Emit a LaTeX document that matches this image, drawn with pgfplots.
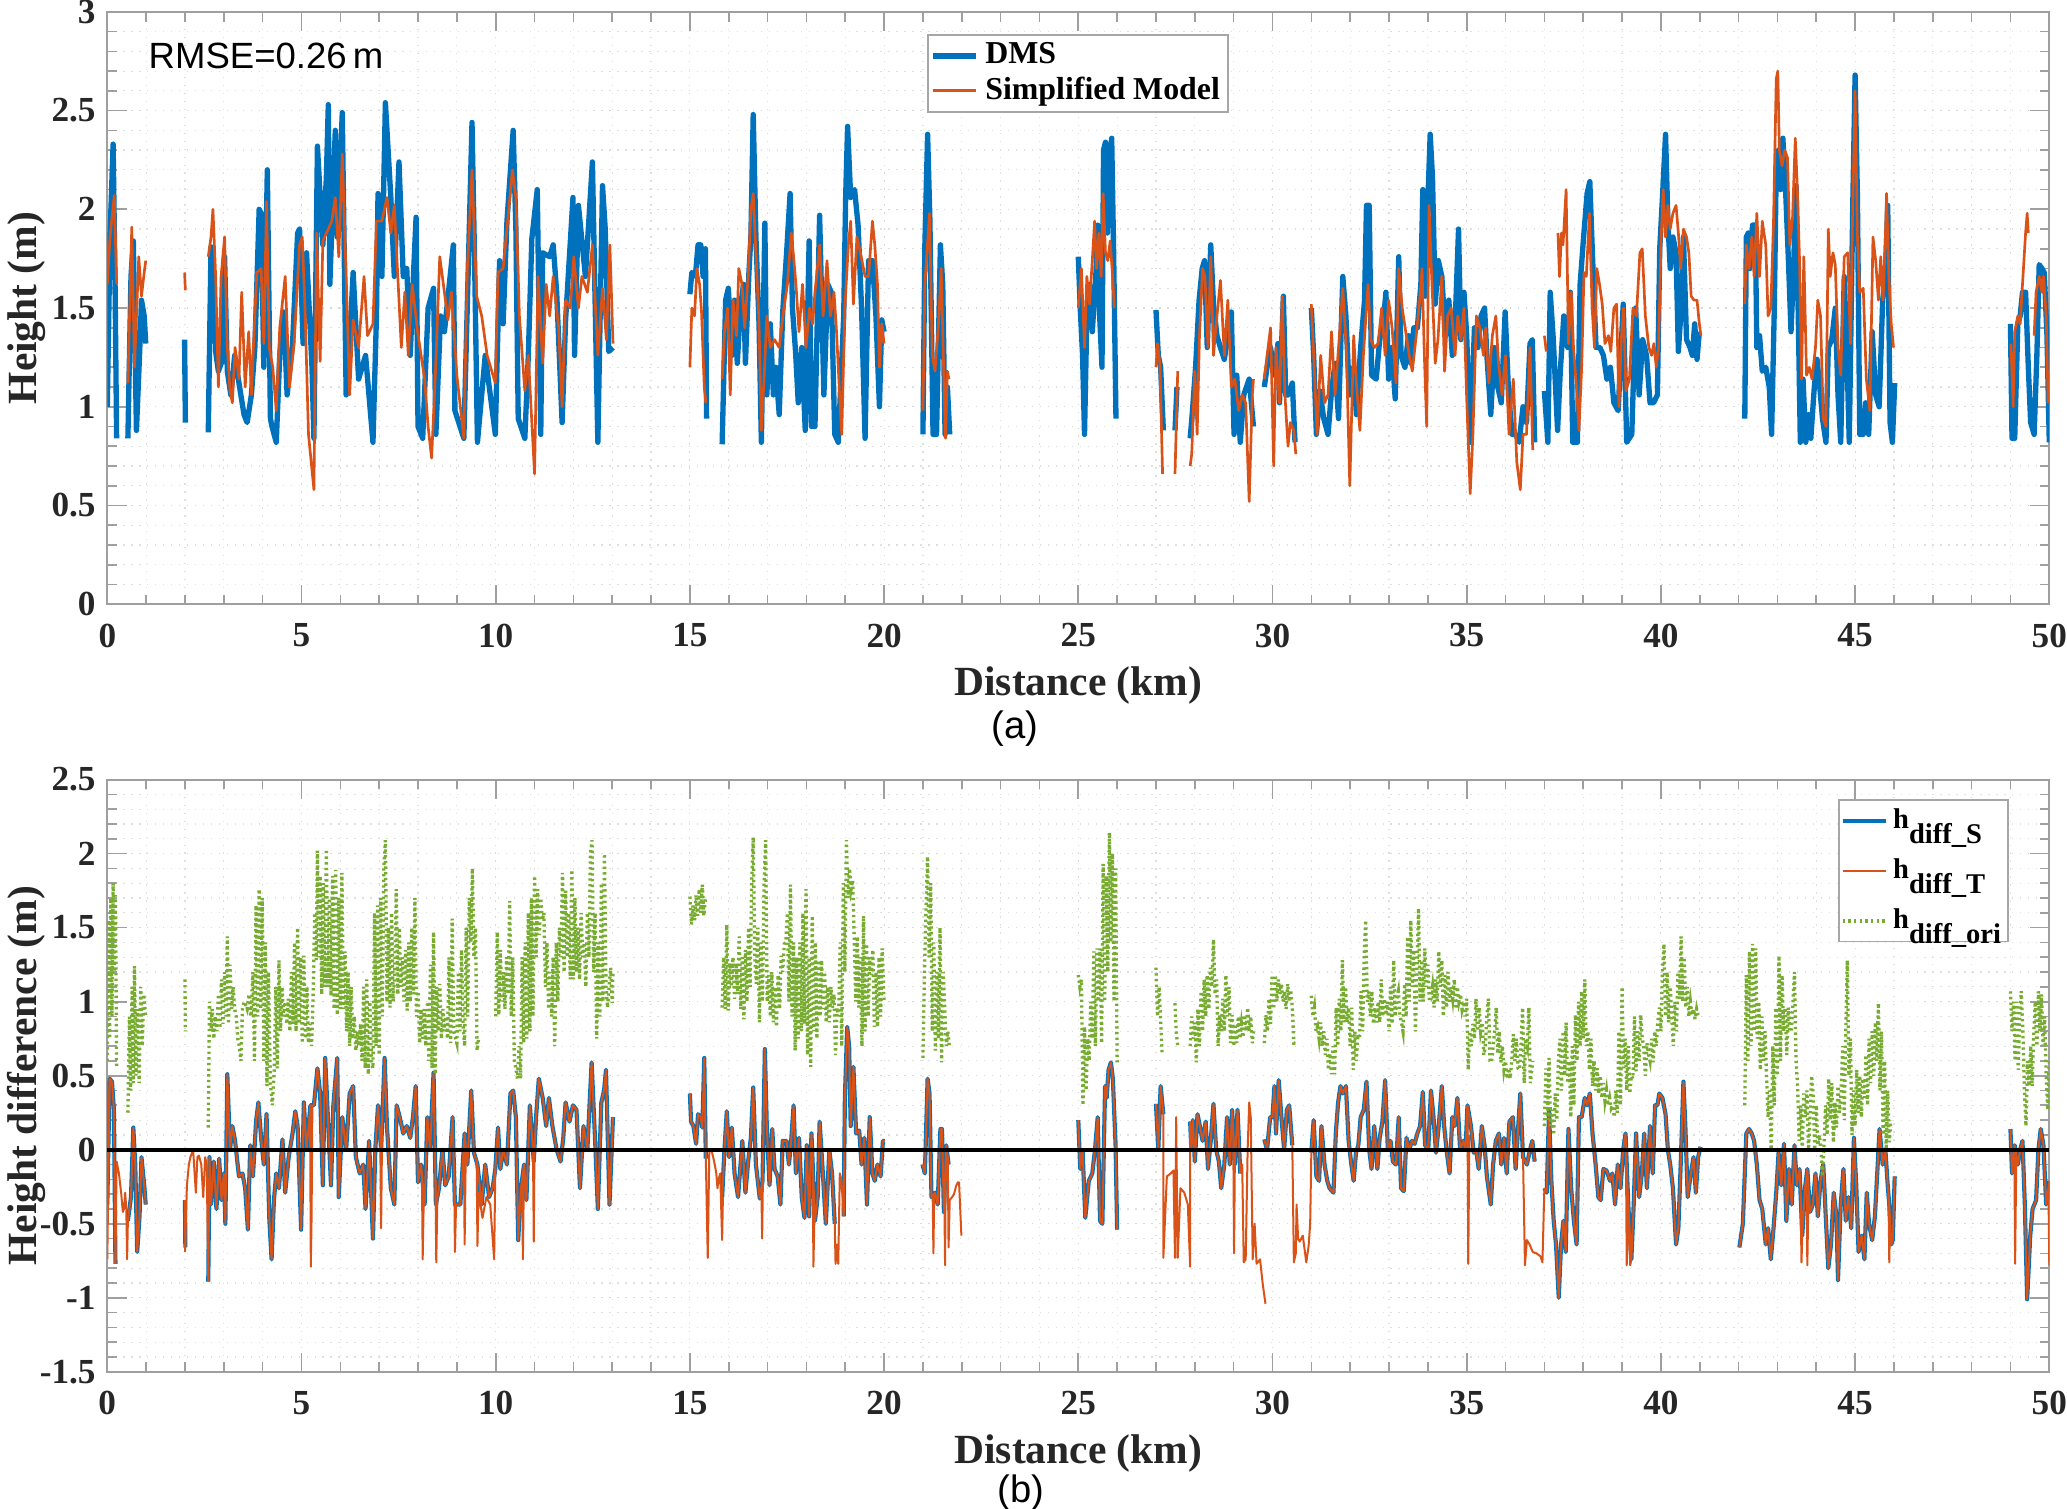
\documentclass[border=0pt]{standalone}
\usepackage{pgfplots}
\pgfplotsset{compat=1.18}
\usepackage{pgfplotstable}
\usepackage{fontspec}
\setmainfont{Liberation Serif}
\newfontfamily\arialf{Liberation Sans}
\definecolor{mblue}{rgb}{0,0.447,0.741}
\definecolor{morange}{rgb}{0.85,0.325,0.098}
\definecolor{mgreen}{rgb}{0.466,0.674,0.188}

% ---------------- top panel data ----------------
\pgfplotstableread[row sep=\\]{x y\\
0.00 1.00\\ 0.07 1.86\\ 0.15 2.33\\ 0.20 1.62\\ 0.24 0.84\\ nan nan\\
0.53 0.84\\ 0.61 1.66\\ 0.67 1.84\\ 0.75 0.88\\ 0.83 1.26\\ 0.88 1.54\\ 0.95 1.46\\ 0.99 1.32\\ nan nan\\
1.99 1.34\\ 2.01 0.92\\ nan nan\\
2.60 0.87\\ 2.67 1.81\\ 2.72 1.74\\ 2.79 1.28\\ 2.86 1.18\\ 2.97 1.24\\ 3.02 1.76\\ 3.09 1.18\\ 3.18 1.06\\ 3.28 1.26\\ 3.39 1.12\\ 3.52 0.96\\ 3.60 0.92\\ 3.71 1.06\\ 3.80 1.30\\ 3.91 2.00\\ 3.96 1.98\\ 4.03 1.20\\ 4.12 2.20\\ 4.20 0.94\\ 4.24 0.90\\ 4.35 0.82\\ 4.44 1.26\\ 4.54 1.48\\ 4.63 1.06\\ 4.77 1.32\\ 4.90 1.88\\ 4.95 1.90\\ 5.04 1.32\\ 5.13 1.78\\ 5.27 1.20\\ 5.32 0.84\\ 5.41 2.32\\ 5.55 1.82\\ 5.64 2.16\\ 5.69 2.53\\ 5.73 1.62\\ 5.87 2.40\\ 5.92 1.86\\ 6.05 2.49\\ 6.15 1.06\\ 6.24 1.34\\ 6.33 1.68\\ 6.47 1.14\\ 6.65 1.26\\ 6.84 0.82\\ 6.93 1.46\\ 6.97 2.08\\ 7.07 1.66\\ 7.16 2.54\\ 7.30 2.06\\ 7.39 1.66\\ 7.51 2.24\\ 7.62 1.66\\ 7.71 1.70\\ 7.80 1.26\\ 7.89 1.70\\ 7.95 1.96\\ 8.00 0.90\\ 8.12 0.84\\ 8.26 1.50\\ 8.40 1.60\\ 8.46 0.86\\ 8.58 1.46\\ 8.68 1.38\\ 8.91 1.82\\ 8.95 0.98\\ 9.18 0.84\\ 9.32 1.90\\ 9.39 2.44\\ 9.46 1.70\\ 9.53 0.82\\ 9.73 1.26\\ 9.99 0.86\\ 10.10 1.74\\ 10.19 1.42\\ 10.29 1.94\\ 10.45 2.40\\ 10.52 1.90\\ 10.58 0.94\\ 10.75 0.84\\ 10.84 1.26\\ 10.93 1.85\\ 11.07 2.10\\ 11.16 0.86\\ 11.21 1.78\\ 11.39 1.76\\ 11.48 1.82\\ 11.57 1.58\\ 11.71 0.92\\ 11.80 1.44\\ 11.99 2.06\\ 12.03 1.26\\ 12.13 2.02\\ 12.31 1.66\\ 12.49 2.24\\ 12.63 0.82\\ 12.75 2.12\\ 12.82 1.90\\ 12.91 1.28\\ 13.02 1.30\\ nan nan\\
15.00 1.57\\ 15.05 1.68\\ 15.14 1.66\\ 15.21 1.82\\ 15.28 1.82\\ 15.34 1.66\\ 15.40 1.80\\ 15.43 0.94\\ nan nan\\
15.83 0.81\\ 15.92 1.54\\ 15.99 1.60\\ 16.08 1.26\\ 16.15 1.54\\ 16.22 1.22\\ 16.30 1.50\\ 16.38 1.62\\ 16.43 1.22\\ 16.52 1.68\\ 16.57 1.86\\ 16.63 2.48\\ 16.70 1.86\\ 16.78 1.42\\ 16.84 0.82\\ 16.93 1.93\\ 16.98 1.06\\ 17.07 1.42\\ 17.15 1.06\\ 17.21 1.20\\ 17.30 0.96\\ 17.39 1.48\\ 17.49 1.78\\ 17.58 2.08\\ 17.64 1.50\\ 17.72 1.28\\ 17.79 1.02\\ 17.88 1.30\\ 17.97 0.88\\ 18.07 1.84\\ 18.13 0.90\\ 18.22 0.90\\ 18.34 1.97\\ 18.45 1.06\\ 18.55 1.62\\ 18.64 1.58\\ 18.73 0.86\\ 18.82 0.82\\ 18.96 1.46\\ 19.01 2.06\\ 19.06 2.42\\ 19.14 2.06\\ 19.24 2.10\\ 19.33 1.92\\ 19.42 1.50\\ 19.51 0.84\\ 19.60 1.74\\ 19.70 1.74\\ 19.79 1.46\\ 19.88 1.00\\ 19.94 1.44\\ 20.00 1.38\\ nan nan\\
21.00 0.86\\ 21.05 1.82\\ 21.12 2.38\\ 21.18 1.94\\ 21.26 0.86\\ 21.35 0.86\\ 21.45 1.82\\ 21.51 1.62\\ 21.57 0.86\\ 21.63 1.10\\ 21.69 0.86\\ nan nan\\
25.00 1.76\\ 25.05 1.50\\ 25.11 1.26\\ 25.16 0.86\\ 25.22 1.46\\ 25.29 1.62\\ 25.36 1.38\\ 25.45 1.66\\ 25.50 1.92\\ 25.55 1.46\\ 25.61 1.20\\ 25.65 2.30\\ 25.70 2.34\\ 25.75 1.88\\ 25.81 2.28\\ 25.86 2.36\\ 25.91 1.78\\ 25.97 0.94\\ nan nan\\
27.00 1.49\\ 27.06 1.26\\ 27.12 1.20\\ 27.19 0.88\\ nan nan\\ 27.49 0.88\\ 27.54 1.10\\ nan nan\\
27.88 0.84\\ 27.94 0.98\\ 28.02 1.20\\ 28.11 1.54\\ 28.19 1.70\\ 28.25 1.74\\ 28.32 1.30\\ 28.41 1.82\\ 28.48 1.52\\ 28.57 1.36\\ 28.66 1.30\\ 28.76 1.24\\ 28.85 1.36\\ 28.94 1.48\\ 29.01 0.86\\ 29.08 1.16\\ 29.17 0.82\\ 29.26 1.06\\ 29.40 1.14\\ 29.51 0.90\\ nan nan\\
29.79 1.10\\ 29.86 1.20\\ 29.95 1.30\\ 30.05 1.16\\ 30.14 1.32\\ 30.18 1.02\\ 30.28 1.56\\ 30.34 1.06\\ 30.41 1.06\\ 30.51 1.12\\ 30.58 0.82\\ nan nan\\
31.00 1.50\\ 31.06 1.26\\ 31.13 0.86\\ 31.22 1.08\\ 31.32 0.94\\ 31.43 0.86\\ 31.52 1.08\\ 31.61 1.22\\ 31.70 0.94\\ 31.81 1.66\\ 31.89 1.46\\ 31.98 1.06\\ 32.09 1.20\\ 32.16 0.96\\ 32.27 1.30\\ 32.37 1.54\\ 32.42 2.02\\ 32.49 2.02\\ 32.55 1.16\\ 32.67 1.14\\ 32.76 1.34\\ 32.85 1.42\\ 32.92 1.58\\ 32.99 1.14\\ 33.07 1.30\\ 33.16 1.04\\ 33.25 1.76\\ 33.31 1.26\\ 33.41 1.20\\ 33.50 1.36\\ 33.56 1.22\\ 33.64 1.40\\ 33.73 1.40\\ 33.82 1.62\\ 33.87 2.10\\ 33.93 1.56\\ 34.01 2.10\\ 34.06 2.38\\ 34.12 2.16\\ 34.19 1.52\\ 34.27 1.74\\ 34.36 1.66\\ 34.45 1.36\\ 34.54 1.54\\ 34.63 1.26\\ 34.72 1.52\\ 34.79 1.90\\ 34.85 1.34\\ 34.93 1.58\\ 35.00 1.36\\ 35.09 0.82\\ 35.20 1.40\\ 35.29 1.30\\ 35.37 1.46\\ 35.46 1.50\\ 35.52 1.26\\ 35.62 0.96\\ 35.71 1.30\\ 35.80 1.10\\ 35.89 1.02\\ 35.99 1.48\\ 36.08 1.06\\ 36.17 0.86\\ 36.26 0.86\\ 36.35 0.82\\ 36.45 1.00\\ 36.54 0.92\\ 36.63 1.32\\ 36.69 1.34\\ 36.75 0.82\\ nan nan\\
37.00 1.08\\ 37.09 0.82\\ 37.15 1.58\\ 37.23 1.34\\ 37.34 0.88\\ 37.41 1.18\\ 37.50 1.46\\ 37.60 1.30\\ 37.67 1.58\\ 37.73 0.82\\ 37.85 0.82\\ 37.92 1.62\\ 38.01 1.86\\ 38.10 2.08\\ 38.17 2.14\\ 38.24 1.76\\ 38.33 1.30\\ 38.43 1.30\\ 38.52 1.26\\ 38.61 1.14\\ 38.70 1.20\\ 38.79 1.02\\ 38.90 0.98\\ 39.03 1.52\\ 39.12 0.82\\ 39.25 0.86\\ 39.35 1.50\\ 39.44 1.06\\ 39.53 1.34\\ 39.63 1.26\\ 39.72 1.02\\ 39.81 1.02\\ 39.91 1.06\\ 39.97 1.80\\ 40.04 2.06\\ 40.12 2.38\\ 40.18 1.94\\ 40.24 1.70\\ 40.31 1.86\\ 40.39 1.78\\ 40.45 1.28\\ 40.51 1.46\\ 40.58 1.86\\ 40.66 1.34\\ 40.75 1.30\\ 40.81 1.26\\ 40.87 1.42\\ 40.93 1.24\\ 40.99 1.38\\ nan nan\\
42.16 0.94\\ 42.20 1.86\\ 42.25 1.88\\ 42.29 1.70\\ 42.36 1.92\\ 42.43 1.92\\ 42.47 1.30\\ 42.54 1.36\\ 42.61 1.18\\ 42.70 1.20\\ 42.79 1.10\\ 42.85 0.86\\ 42.92 1.50\\ 42.97 2.22\\ 43.03 2.30\\ 43.08 2.10\\ 43.14 2.36\\ 43.21 2.10\\ 43.28 1.76\\ 43.35 1.38\\ 43.41 1.66\\ 43.48 2.12\\ 43.53 1.54\\ 43.59 0.82\\ 43.66 1.14\\ 43.73 0.82\\ 43.80 0.96\\ 43.86 0.84\\ 43.95 1.10\\ 44.02 1.24\\ 44.09 1.10\\ 44.16 0.94\\ 44.25 0.82\\ 44.31 1.30\\ 44.40 1.34\\ 44.49 1.50\\ 44.56 1.06\\ 44.63 0.82\\ 44.72 1.66\\ 44.79 1.26\\ 44.85 0.82\\ 44.94 2.02\\ 45.00 2.68\\ 45.06 2.06\\ 45.12 0.86\\ 45.21 0.86\\ 45.27 1.02\\ 45.35 0.86\\ 45.44 1.38\\ 45.53 1.06\\ 45.62 1.00\\ 45.71 1.54\\ 45.78 1.66\\ 45.84 2.02\\ 45.90 0.92\\ 45.96 0.82\\ 46.02 1.12\\ nan nan\\
49.00 1.42\\ 49.04 0.84\\ 49.11 0.84\\ 49.19 1.42\\ 49.25 1.46\\ 49.31 1.58\\ 49.39 1.58\\ 49.46 1.20\\ 49.52 0.92\\ 49.61 0.86\\ 49.68 1.26\\ 49.74 1.72\\ 49.81 1.70\\ 49.87 1.68\\ 49.94 1.36\\ 50.00 0.82\\
}\dms

\pgfplotstableread[row sep=\\]{x y\\
0.00 1.62\\ 0.07 1.86\\ 0.18 2.07\\ 0.24 1.62\\ nan nan\\
0.53 1.12\\ 0.63 1.91\\ 0.70 1.20\\ 0.81 1.76\\ 0.88 1.56\\ 0.95 1.68\\ 0.99 1.74\\ nan nan\\
1.99 1.68\\ 2.01 1.59\\ nan nan\\
2.60 1.76\\ 2.67 1.86\\ 2.72 2.00\\ 2.79 1.66\\ 2.86 1.10\\ 2.93 1.66\\ 3.02 1.86\\ 3.09 1.30\\ 3.16 1.08\\ 3.22 1.02\\ 3.29 1.30\\ 3.39 1.14\\ 3.46 1.58\\ 3.55 1.10\\ 3.64 1.38\\ 3.71 1.06\\ 3.77 1.34\\ 3.85 1.68\\ 3.96 1.70\\ 4.03 1.32\\ 4.10 2.04\\ 4.17 1.30\\ 4.26 1.20\\ 4.35 0.98\\ 4.44 1.40\\ 4.58 1.66\\ 4.69 1.10\\ 4.81 1.32\\ 4.95 1.82\\ 5.02 1.86\\ 5.09 1.50\\ 5.18 0.86\\ 5.32 0.58\\ 5.39 1.88\\ 5.48 1.23\\ 5.55 1.84\\ 5.69 1.90\\ 5.78 1.94\\ 5.87 2.06\\ 5.96 1.76\\ 6.05 2.28\\ 6.15 1.66\\ 6.24 1.06\\ 6.33 1.44\\ 6.47 1.30\\ 6.61 1.66\\ 6.70 1.36\\ 6.84 1.42\\ 6.93 1.94\\ 7.07 1.94\\ 7.20 2.06\\ 7.30 1.88\\ 7.39 2.02\\ 7.48 1.66\\ 7.57 1.30\\ 7.66 1.58\\ 7.75 1.26\\ 7.85 1.62\\ 7.99 1.38\\ 8.08 1.26\\ 8.17 1.14\\ 8.26 0.90\\ 8.35 0.74\\ 8.45 1.18\\ 8.56 1.76\\ 8.68 1.58\\ 8.77 1.44\\ 8.86 1.58\\ 9.00 1.16\\ 9.18 0.84\\ 9.27 1.70\\ 9.39 2.20\\ 9.51 1.56\\ 9.64 1.46\\ 9.78 1.26\\ 9.99 1.12\\ 10.06 1.68\\ 10.19 1.70\\ 10.29 1.90\\ 10.43 2.20\\ 10.52 2.06\\ 10.61 1.46\\ 10.75 1.08\\ 10.84 1.26\\ 11.00 0.66\\ 11.09 1.66\\ 11.21 1.22\\ 11.30 1.62\\ 11.39 1.46\\ 11.48 1.66\\ 11.62 1.40\\ 11.71 1.00\\ 11.80 1.54\\ 11.92 1.50\\ 12.01 1.76\\ 12.13 1.50\\ 12.22 1.66\\ 12.36 1.58\\ 12.49 1.82\\ 12.63 1.26\\ 12.75 1.60\\ 12.85 1.34\\ 12.94 1.82\\ 13.02 1.32\\ nan nan\\
15.00 1.20\\ 15.05 1.50\\ 15.12 1.46\\ 15.18 1.70\\ 15.25 1.62\\ 15.30 1.48\\ 15.37 1.10\\ 15.41 1.02\\ nan nan\\
15.83 1.14\\ 15.89 1.38\\ 15.97 1.50\\ 16.04 1.06\\ 16.11 1.54\\ 16.20 1.36\\ 16.26 1.70\\ 16.34 1.62\\ 16.41 1.40\\ 16.50 1.66\\ 16.57 2.00\\ 16.63 2.08\\ 16.70 1.78\\ 16.78 1.42\\ 16.84 0.88\\ 16.91 1.14\\ 16.98 1.46\\ 17.07 1.30\\ 17.18 1.34\\ 17.30 1.30\\ 17.42 1.50\\ 17.51 1.62\\ 17.61 1.88\\ 17.67 1.76\\ 17.73 1.62\\ 17.81 1.38\\ 17.90 1.62\\ 17.99 1.30\\ 18.08 1.50\\ 18.16 1.42\\ 18.22 1.58\\ 18.34 1.82\\ 18.43 1.46\\ 18.53 1.74\\ 18.62 1.46\\ 18.71 1.58\\ 18.77 1.40\\ 18.87 1.00\\ 18.91 0.86\\ 18.99 1.50\\ 19.08 1.82\\ 19.14 1.94\\ 19.21 1.52\\ 19.30 1.86\\ 19.39 1.78\\ 19.51 1.66\\ 19.60 1.66\\ 19.70 1.94\\ 19.76 1.82\\ 19.83 1.62\\ 19.88 1.20\\ 19.94 1.42\\ 20.00 1.32\\ nan nan\\
21.00 0.98\\ 21.05 1.62\\ 21.17 1.98\\ 21.24 1.26\\ 21.31 1.18\\ 21.40 1.42\\ 21.47 1.70\\ 21.53 1.22\\ 21.58 0.84\\ 21.63 1.18\\ 21.67 1.14\\ nan nan\\
25.00 1.50\\ 25.08 1.70\\ 25.16 1.30\\ 25.22 1.66\\ 25.29 1.52\\ 25.36 1.74\\ 25.42 1.94\\ 25.47 1.70\\ 25.53 1.88\\ 25.59 1.66\\ 25.64 2.08\\ 25.70 1.78\\ 25.76 1.74\\ 25.82 1.84\\ 25.87 1.70\\ 25.93 1.50\\ nan nan\\
27.00 1.20\\ 27.04 1.32\\ 27.10 1.22\\ 27.17 0.66\\ nan nan\\ 27.49 0.66\\ 27.56 1.18\\ nan nan\\
27.88 0.70\\ 27.92 0.76\\ 28.00 1.18\\ 28.06 0.86\\ 28.12 1.36\\ 28.20 1.70\\ 28.26 1.66\\ 28.34 1.30\\ 28.41 1.76\\ 28.48 1.26\\ 28.57 1.46\\ 28.66 1.64\\ 28.76 1.26\\ 28.85 1.54\\ 28.94 1.10\\ 29.03 1.14\\ 29.13 0.98\\ 29.22 1.06\\ 29.31 1.02\\ 29.40 0.52\\ 29.48 1.06\\ 29.51 1.14\\ nan nan\\
29.79 1.14\\ 29.86 1.26\\ 29.95 1.40\\ 30.03 0.70\\ 30.09 1.30\\ 30.18 1.02\\ 30.25 1.56\\ 30.32 1.06\\ 30.40 0.80\\ 30.46 0.92\\ 30.55 0.88\\ 30.60 0.76\\ nan nan\\
31.00 1.52\\ 31.06 1.26\\ 31.15 0.86\\ 31.24 1.26\\ 31.34 1.02\\ 31.43 1.06\\ 31.52 1.38\\ 31.61 1.06\\ 31.70 1.30\\ 31.81 1.60\\ 31.90 1.30\\ 31.99 0.60\\ 32.09 1.36\\ 32.16 1.12\\ 32.25 0.88\\ 32.34 1.26\\ 32.46 1.62\\ 32.53 1.34\\ 32.62 1.30\\ 32.72 1.32\\ 32.81 1.50\\ 32.90 1.26\\ 32.99 1.54\\ 33.08 1.40\\ 33.18 1.12\\ 33.25 1.70\\ 33.34 1.50\\ 33.43 1.38\\ 33.52 1.26\\ 33.60 1.18\\ 33.70 1.36\\ 33.79 1.54\\ 33.85 1.70\\ 33.91 1.26\\ 33.97 0.90\\ 34.03 2.02\\ 34.09 1.70\\ 34.19 1.22\\ 34.26 1.34\\ 34.36 1.66\\ 34.43 1.18\\ 34.51 1.46\\ 34.60 1.50\\ 34.70 1.26\\ 34.77 1.46\\ 34.85 1.34\\ 34.93 1.50\\ 35.00 1.04\\ 35.09 0.56\\ 35.16 0.86\\ 35.25 1.46\\ 35.34 1.40\\ 35.43 1.26\\ 35.49 1.40\\ 35.57 1.12\\ 35.66 1.36\\ 35.75 1.46\\ 35.82 1.22\\ 35.91 1.06\\ 36.00 1.26\\ 36.09 0.86\\ 36.20 1.14\\ 36.29 0.72\\ 36.38 0.58\\ 36.45 0.86\\ 36.54 0.86\\ 36.63 1.30\\ 36.70 0.78\\ nan nan\\
37.00 1.36\\ 37.05 1.28\\ nan nan\\
37.35 1.88\\ 37.39 1.66\\ 37.44 1.88\\ 37.48 1.82\\ 37.56 2.10\\ 37.62 1.32\\ 37.69 1.58\\ 37.75 1.30\\ 37.84 1.06\\ 37.89 0.88\\ 37.96 1.20\\ 38.02 1.68\\ 38.08 1.66\\ 38.16 1.98\\ 38.23 1.50\\ 38.29 1.30\\ 38.35 1.70\\ 38.42 1.62\\ 38.49 1.52\\ 38.56 1.32\\ 38.65 1.36\\ 38.71 1.28\\ 38.79 1.50\\ 38.86 1.52\\ 38.92 1.00\\ 38.98 1.34\\ 39.04 1.50\\ 39.10 1.08\\ 39.19 1.14\\ 39.28 1.50\\ 39.37 1.46\\ 39.46 1.78\\ 39.52 1.80\\ 39.60 1.46\\ 39.69 1.30\\ 39.76 1.26\\ 39.82 1.32\\ 39.88 1.20\\ 39.94 1.30\\ 40.00 1.82\\ 40.06 2.10\\ 40.12 1.86\\ 40.18 2.02\\ 40.24 1.90\\ 40.31 1.98\\ 40.39 2.02\\ 40.45 1.88\\ 40.51 1.70\\ 40.58 1.90\\ 40.66 1.86\\ 40.72 1.78\\ 40.78 1.56\\ 40.85 1.54\\ 40.93 1.54\\ 40.99 1.42\\ 41.03 1.36\\ nan nan\\
42.16 1.52\\ 42.20 1.82\\ 42.27 1.70\\ 42.34 1.86\\ 42.40 1.66\\ 42.47 1.98\\ 42.54 1.66\\ 42.61 1.94\\ 42.70 1.82\\ 42.76 1.46\\ 42.83 1.50\\ 42.90 1.94\\ 42.97 2.66\\ 43.01 2.70\\ 43.05 2.30\\ 43.12 2.22\\ 43.19 2.30\\ 43.26 2.26\\ 43.32 1.82\\ 43.39 1.96\\ 43.46 2.36\\ 43.51 2.12\\ 43.57 1.74\\ 43.62 1.14\\ 43.68 1.76\\ 43.75 1.16\\ 43.82 1.20\\ 43.89 1.14\\ 43.98 1.30\\ 44.04 1.54\\ 44.11 1.46\\ 44.18 0.94\\ 44.25 0.90\\ 44.31 1.90\\ 44.36 1.66\\ 44.43 1.78\\ 44.49 1.72\\ 44.56 1.30\\ 44.63 1.16\\ 44.72 1.76\\ 44.81 1.78\\ 44.88 1.32\\ 44.94 2.02\\ 45.00 2.60\\ 45.06 1.86\\ 45.12 1.58\\ 45.21 1.60\\ 45.29 1.14\\ 45.38 0.98\\ 45.46 1.86\\ 45.53 1.74\\ 45.60 1.54\\ 45.66 1.76\\ 45.72 1.54\\ 45.78 1.86\\ 45.81 2.08\\ 45.87 1.66\\ 45.93 1.42\\ 45.99 1.30\\ nan nan\\
49.01 1.32\\ 49.07 1.00\\ 49.11 1.38\\ 49.19 1.46\\ 49.25 1.42\\ 49.31 1.62\\ 49.39 1.88\\ 49.43 1.98\\ 49.46 1.88\\ nan nan\\
49.61 1.36\\ 49.66 1.58\\ 49.74 1.66\\ 49.81 1.58\\ 49.85 1.66\\ 49.92 1.46\\ 49.97 1.02\\
}\smodel

% ---------------- bottom panel data ----------------
\pgfplotstableread[row sep=\\]{x y\\
0.00 -0.37\\ 0.06 0.48\\ 0.12 0.46\\ 0.17 0.27\\ 0.21 -0.77\\ nan nan\\
0.53 -0.48\\ 0.61 -0.32\\ 0.67 0.15\\ 0.72 -0.10\\ 0.77 -0.69\\ 0.83 -0.45\\ 0.88 -0.05\\ 0.95 -0.24\\ 0.99 -0.37\\ nan nan\\
2.00 -0.34\\ 2.01 -0.66\\ nan nan\\
2.60 -0.89\\ 2.63 -0.05\\ 2.67 -0.37\\ 2.74 -0.08\\ 2.81 -0.40\\ 2.88 -0.06\\ 2.94 -0.34\\ 3.00 -0.16\\ 3.04 -0.50\\ 3.09 0.51\\ 3.16 0.00\\ 3.22 0.16\\ 3.29 0.06\\ 3.39 -0.18\\ 3.48 -0.16\\ 3.55 -0.26\\ 3.62 -0.54\\ 3.68 0.03\\ 3.75 -0.18\\ 3.83 0.19\\ 3.89 0.32\\ 3.96 0.08\\ 4.03 -0.10\\ 4.10 0.24\\ 4.17 -0.46\\ 4.23 -0.74\\ 4.29 -0.34\\ 4.35 -0.16\\ 4.42 -0.26\\ 4.51 0.07\\ 4.58 -0.29\\ 4.67 -0.05\\ 4.77 0.11\\ 4.84 0.26\\ 4.90 0.16\\ 4.99 -0.54\\ 5.06 0.32\\ 5.13 0.00\\ 5.23 0.30\\ 5.32 0.30\\ 5.41 0.55\\ 5.48 0.38\\ 5.55 -0.24\\ 5.61 0.62\\ 5.69 0.16\\ 5.76 -0.24\\ 5.82 0.30\\ 5.92 0.62\\ 5.96 -0.32\\ 6.05 0.22\\ 6.15 0.00\\ 6.24 0.38\\ 6.33 0.43\\ 6.40 -0.05\\ 6.50 -0.16\\ 6.59 -0.10\\ 6.65 -0.40\\ 6.74 0.06\\ 6.84 -0.60\\ 6.90 0.00\\ 6.97 0.30\\ 7.05 0.00\\ 7.14 0.62\\ 7.20 0.16\\ 7.30 -0.26\\ 7.39 -0.37\\ 7.45 0.30\\ 7.53 0.22\\ 7.62 0.11\\ 7.71 0.16\\ 7.80 0.08\\ 7.87 0.22\\ 7.94 0.43\\ 8.00 -0.22\\ 8.08 -0.10\\ 8.17 -0.37\\ 8.24 0.22\\ 8.31 0.00\\ 8.40 0.52\\ 8.46 -0.37\\ 8.54 -0.26\\ 8.63 0.00\\ 8.70 -0.24\\ 8.79 -0.18\\ 8.89 0.22\\ 8.95 -0.37\\ 9.09 -0.37\\ 9.20 0.11\\ 9.27 -0.10\\ 9.37 0.40\\ 9.44 -0.02\\ 9.53 -0.10\\ 9.64 -0.37\\ 9.73 -0.10\\ 9.83 -0.32\\ 9.92 -0.26\\ 9.99 -0.13\\ 10.06 0.15\\ 10.12 -0.13\\ 10.19 0.00\\ 10.29 -0.10\\ 10.38 0.38\\ 10.45 0.40\\ 10.52 0.22\\ 10.58 -0.61\\ 10.65 -0.26\\ 10.73 -0.10\\ 10.79 -0.34\\ 10.88 0.30\\ 10.98 -0.08\\ 11.04 0.22\\ 11.11 0.48\\ 11.21 0.35\\ 11.30 0.16\\ 11.37 0.35\\ 11.46 0.16\\ 11.57 0.00\\ 11.67 -0.08\\ 11.74 0.08\\ 11.80 0.32\\ 11.90 0.19\\ 11.99 0.30\\ 12.08 0.27\\ 12.17 -0.26\\ 12.26 0.16\\ 12.36 0.00\\ 12.47 0.59\\ 12.57 0.00\\ 12.63 -0.40\\ 12.72 0.32\\ 12.79 0.40\\ 12.84 0.54\\ 12.93 -0.37\\ 13.02 0.22\\ nan nan\\
15.00 0.38\\ 15.03 0.19\\ 15.09 0.16\\ 15.16 0.04\\ 15.21 0.24\\ 15.28 0.22\\ 15.32 0.15\\ 15.37 0.62\\ 15.41 -0.06\\ nan nan\\
15.83 -0.32\\ 15.89 0.00\\ 15.95 0.26\\ 16.01 -0.05\\ 16.08 0.15\\ 16.15 -0.16\\ 16.24 -0.32\\ 16.35 0.06\\ 16.43 -0.29\\ 16.50 -0.08\\ 16.57 0.08\\ 16.63 0.42\\ 16.70 -0.10\\ 16.80 -0.33\\ 16.87 -0.21\\ 16.93 0.68\\ 16.98 0.16\\ 17.05 -0.24\\ 17.12 0.14\\ 17.18 -0.13\\ 17.26 -0.18\\ 17.33 -0.37\\ 17.39 0.06\\ 17.49 0.06\\ 17.55 -0.10\\ 17.61 0.07\\ 17.67 0.30\\ 17.73 -0.16\\ 17.81 0.08\\ 17.88 -0.32\\ 17.95 -0.46\\ 18.01 0.03\\ 18.07 -0.45\\ 18.13 0.11\\ 18.22 -0.48\\ 18.29 -0.32\\ 18.34 0.19\\ 18.41 -0.10\\ 18.50 -0.50\\ 18.59 0.00\\ 18.66 -0.16\\ 18.73 -0.50\\ nan nan\\
18.96 -0.45\\ 18.99 0.35\\ 19.05 0.83\\ 19.10 0.70\\ 19.14 0.16\\ 19.21 0.56\\ 19.28 0.11\\ 19.36 0.13\\ 19.42 -0.10\\ 19.49 0.08\\ 19.56 -0.37\\ 19.63 0.22\\ 19.70 -0.16\\ 19.76 -0.21\\ 19.83 -0.10\\ 19.91 -0.18\\ 19.97 0.06\\ 20.02 0.06\\ nan nan\\
20.99 -0.10\\ 21.05 -0.16\\ 21.12 0.48\\ 21.17 0.38\\ 21.22 -0.32\\ 21.31 -0.29\\ 21.38 -0.37\\ 21.45 0.14\\ 21.49 0.14\\ 21.54 -0.42\\ 21.60 0.03\\ 21.66 -0.10\\ nan nan\\
25.00 0.20\\ 25.05 -0.13\\ 25.11 0.00\\ 25.18 -0.46\\ 25.27 -0.21\\ 25.36 -0.16\\ 25.43 0.00\\ 25.50 0.22\\ 25.56 -0.48\\ 25.62 -0.50\\ 25.69 0.43\\ 25.73 0.35\\ 25.78 0.54\\ 25.84 0.59\\ 25.89 0.48\\ 25.96 0.03\\ 26.00 -0.54\\ nan nan\\
27.00 0.31\\ 27.06 0.00\\ 27.12 0.43\\ 27.19 0.24\\ nan nan\\
27.88 0.19\\ 27.91 0.00\\ 27.95 0.20\\ 28.00 -0.08\\ 28.07 0.24\\ 28.13 0.16\\ 28.20 0.06\\ 28.28 0.19\\ 28.34 -0.13\\ 28.41 0.06\\ 28.48 0.31\\ 28.55 0.00\\ 28.62 -0.08\\ 28.68 -0.26\\ 28.76 -0.10\\ 28.83 0.22\\ 28.90 -0.10\\ 28.96 0.27\\ 29.03 -0.10\\ 29.10 0.27\\ 29.17 -0.16\\ nan nan\\
29.79 0.07\\ 29.86 0.00\\ 29.94 0.22\\ 30.00 0.22\\ 30.05 0.43\\ 30.09 0.11\\ 30.16 0.47\\ 30.23 0.22\\ 30.30 0.00\\ 30.37 0.27\\ 30.43 0.30\\ 30.51 0.03\\ nan nan\\
31.00 -0.02\\ 31.06 0.20\\ 31.13 -0.18\\ 31.20 -0.21\\ 31.26 0.16\\ 31.34 -0.10\\ 31.41 -0.21\\ 31.47 -0.26\\ 31.57 -0.29\\ 31.63 0.11\\ 31.69 0.32\\ 31.75 0.43\\ 31.81 0.38\\ 31.89 0.43\\ 31.96 0.06\\ 32.03 -0.10\\ 32.09 -0.21\\ 32.15 -0.02\\ 32.21 0.03\\ 32.27 0.22\\ 32.35 0.27\\ 32.42 0.46\\ 32.49 0.00\\ 32.55 -0.13\\ 32.62 0.16\\ 32.70 -0.13\\ 32.76 0.08\\ 32.83 0.19\\ 32.90 0.47\\ 32.97 0.00\\ 33.04 0.06\\ 33.10 -0.08\\ 33.18 -0.10\\ 33.25 0.22\\ 33.31 -0.26\\ 33.38 -0.28\\ 33.45 0.08\\ 33.52 0.00\\ 33.59 0.06\\ 33.66 0.04\\ 33.73 0.11\\ 33.80 0.16\\ 33.87 0.39\\ 33.93 0.03\\ 34.01 0.00\\ 34.08 0.40\\ 34.14 0.24\\ 34.21 -0.02\\ 34.28 0.16\\ 34.36 0.43\\ 34.42 0.16\\ 34.48 0.00\\ 34.56 -0.16\\ 34.63 0.22\\ 34.69 0.16\\ 34.76 0.35\\ 34.83 0.00\\ 34.91 0.06\\ 34.97 0.00\\ 35.02 0.30\\ 35.11 0.16\\ 35.18 -0.02\\ 35.24 0.00\\ 35.31 -0.13\\ 35.39 0.16\\ 35.46 0.03\\ 35.52 -0.18\\ 35.62 -0.37\\ 35.68 -0.10\\ 35.75 0.06\\ 35.83 0.11\\ 35.89 -0.10\\ 35.96 0.08\\ 36.03 -0.16\\ 36.10 0.19\\ 36.19 0.22\\ 36.26 -0.13\\ 36.32 0.13\\ 36.38 0.38\\ 36.45 -0.05\\ 36.55 -0.10\\ 36.63 0.00\\ 36.69 0.06\\ 36.75 -0.08\\ nan nan\\
37.00 -0.26\\ 37.06 -0.29\\ 37.12 0.26\\ 37.18 -0.21\\ 37.24 -0.48\\ 37.30 -0.64\\ 37.37 -1.00\\ 37.43 -0.64\\ 37.49 -0.48\\ 37.55 -0.69\\ 37.62 0.14\\ 37.69 -0.26\\ 37.76 -0.48\\ 37.83 -0.64\\ 37.89 0.22\\ 37.96 0.22\\ 38.04 0.35\\ 38.10 0.30\\ 38.17 0.38\\ 38.24 0.11\\ 38.32 -0.10\\ 38.39 -0.32\\ 38.45 -0.34\\ 38.52 -0.13\\ 38.60 -0.14\\ 38.69 -0.21\\ 38.75 -0.16\\ 38.82 -0.37\\ 38.89 -0.10\\ 38.96 -0.26\\ 39.03 0.00\\ 39.09 0.11\\ 39.16 -0.37\\ 39.24 -0.74\\ 39.30 -0.37\\ 39.36 0.11\\ 39.44 -0.32\\ 39.51 -0.16\\ 39.57 0.11\\ 39.64 -0.26\\ 39.72 0.16\\ 39.79 -0.16\\ 39.85 0.30\\ 39.91 0.30\\ 39.96 0.38\\ 40.04 0.35\\ 40.12 0.24\\ 40.18 0.00\\ 40.24 -0.10\\ 40.31 -0.26\\ 40.39 -0.64\\ 40.45 -0.53\\ 40.51 -0.10\\ 40.58 0.46\\ 40.63 0.16\\ 40.69 -0.32\\ 40.76 -0.18\\ 40.84 -0.05\\ 40.90 -0.29\\ 40.96 -0.05\\ 41.02 0.02\\ nan nan\\
42.02 -0.66\\ 42.11 -0.50\\ 42.20 0.11\\ 42.27 0.14\\ 42.34 0.11\\ 42.40 0.06\\ 42.47 -0.10\\ 42.54 -0.34\\ 42.61 -0.40\\ 42.70 -0.64\\ 42.76 -0.53\\ 42.83 -0.74\\ 42.90 -0.53\\ 42.97 -0.29\\ 43.03 -0.02\\ 43.10 -0.24\\ 43.17 0.04\\ 43.23 -0.48\\ 43.30 -0.13\\ 43.37 -0.37\\ 43.44 0.03\\ 43.50 -0.24\\ 43.57 -0.13\\ 43.64 -0.58\\ 43.71 -0.26\\ 43.77 -0.13\\ 43.84 -0.42\\ 43.91 -0.37\\ 43.98 -0.16\\ 44.04 -0.45\\ 44.11 -0.21\\ 44.18 -0.10\\ 44.25 -0.48\\ 44.31 -0.80\\ 44.38 -0.64\\ 44.45 -0.29\\ 44.52 -0.45\\ 44.56 -0.88\\ 44.63 -0.37\\ 44.70 -0.13\\ 44.76 -0.48\\ 44.83 -0.32\\ 44.90 -0.53\\ 44.97 0.08\\ 45.03 -0.24\\ 45.09 -0.69\\ 45.17 -0.58\\ 45.24 -0.74\\ 45.30 -0.29\\ 45.36 -0.50\\ 45.44 -0.61\\ 45.51 -0.45\\ 45.57 -0.16\\ 45.63 0.14\\ 45.71 -0.10\\ 45.78 0.00\\ 45.84 -0.24\\ 45.88 -0.37\\ 45.93 -0.64\\ 45.97 -0.61\\ 46.02 -0.18\\ nan nan\\
49.00 0.14\\ 49.04 -0.16\\ 49.11 0.03\\ 49.19 -0.10\\ 49.25 0.00\\ 49.31 0.06\\ 49.37 -0.37\\ 49.43 -1.01\\ 49.51 -0.58\\ 49.57 -0.40\\ 49.66 -0.34\\ 49.72 0.00\\ 49.78 0.14\\ 49.85 0.03\\ 49.92 -0.37\\ 49.99 -0.24\\ 50.00 -0.21\\
}\hs

\pgfplotstableread[row sep=\\]{x y\\
0.00 -0.74\\ 0.06 0.48\\ nan nan\\
0.21 -0.77\\ 0.24 -0.08\\ 0.30 -0.16\\ 0.36 -0.30\\ 0.40 -0.42\\ 0.43 -0.40\\ 0.46 -0.29\\ 0.49 -0.40\\ 0.51 -0.74\\ 0.53 -0.48\\ nan nan\\
2.00 -0.69\\ 2.05 -0.24\\ 2.10 -0.10\\ 2.14 -0.05\\ 2.21 0.00\\ 2.28 -0.29\\ 2.32 -0.05\\ 2.36 -0.04\\ 2.42 -0.10\\ 2.47 -0.32\\ 2.52 -0.05\\ 2.56 -0.10\\ 2.60 -0.89\\ nan nan\\
5.22 0.28\\ 5.24 -0.79\\ 5.26 -0.45\\ 5.28 0.30\\ nan nan\\
7.03 0.02\\ 7.05 -0.53\\ 7.08 0.25\\ nan nan\\
8.10 -0.15\\ 8.12 -0.74\\ 8.15 -0.30\\ nan nan\\
8.45 -0.20\\ 8.47 -0.76\\ 8.50 -0.30\\ nan nan\\
8.93 -0.10\\ 8.95 -0.69\\ 8.98 -0.37\\ nan nan\\
9.18 0.05\\ 9.20 -0.64\\ 9.23 0.00\\ nan nan\\
9.51 -0.06\\ 9.53 -0.65\\ 9.56 -0.29\\ 9.66 -0.46\\ 9.76 -0.32\\ 9.86 -0.37\\ 9.96 -0.74\\ 9.99 -0.13\\ nan nan\\
10.68 -0.20\\ 10.70 -0.74\\ 10.73 -0.10\\ nan nan\\
10.96 0.00\\ 10.98 -0.62\\ 11.00 0.05\\ nan nan\\
15.41 -0.06\\ 15.46 -0.73\\ 15.50 0.00\\ 15.55 0.00\\ 15.60 -0.05\\ 15.64 -0.10\\ 15.68 -0.16\\ 15.71 -0.26\\ 15.74 -0.20\\ 15.78 -0.16\\ 15.83 -0.61\\ 15.85 -0.32\\ nan nan\\
16.84 -0.25\\ 16.86 -0.60\\ 16.88 -0.20\\ nan nan\\
18.16 0.00\\ 18.18 -0.79\\ 18.21 -0.40\\ nan nan\\
18.73 -0.50\\ 18.75 -0.77\\ 18.79 -0.64\\ 18.82 -0.77\\ 18.86 -0.16\\ 18.90 -0.20\\ 18.96 -0.45\\ nan nan\\
21.25 -0.30\\ 21.27 -0.70\\ 21.29 -0.30\\ nan nan\\
21.55 -0.30\\ 21.57 -0.78\\ 21.59 0.00\\ nan nan\\
21.64 -0.05\\ 21.66 -0.66\\ 21.69 -0.34\\ 21.75 -0.32\\ 21.80 -0.30\\ 21.86 -0.24\\ 21.90 -0.22\\ 21.93 -0.22\\ 21.99 -0.58\\ nan nan\\
27.19 0.24\\ 27.19 -0.73\\ 27.28 -0.18\\ 27.38 -0.16\\ 27.45 -0.14\\ 27.49 -0.73\\ 27.52 0.22\\ 27.56 -0.73\\ 27.63 -0.26\\ 27.73 -0.29\\ 27.82 -0.37\\ 27.88 -0.79\\ 27.88 0.19\\ nan nan\\
28.99 0.10\\ 29.01 -0.70\\ 29.03 -0.10\\ nan nan\\
29.17 -0.16\\ 29.22 -0.10\\ 29.26 -0.76\\ 29.31 -0.74\\ 29.36 0.00\\ 29.40 0.32\\ 29.44 0.22\\ 29.49 -0.74\\ 29.54 -0.50\\ 29.59 -0.77\\ 29.68 -0.74\\ 29.75 -0.91\\ 29.82 -1.04\\ nan nan\\
30.51 0.03\\ 30.55 -0.76\\ 30.60 -0.70\\ 30.62 -0.37\\ 30.66 -0.60\\ 30.70 -0.62\\ 30.78 -0.58\\ 30.84 -0.70\\ 30.87 -0.76\\ 30.93 -0.65\\ 30.97 -0.50\\ 31.00 -0.02\\ nan nan\\
35.02 0.30\\ 35.04 -0.77\\ 35.07 0.10\\ nan nan\\
36.45 -0.05\\ 36.50 -0.78\\ 36.55 -0.61\\ 36.62 -0.64\\ 36.70 -0.69\\ 36.80 -0.70\\ 36.90 -0.72\\ 36.95 -0.76\\ 37.00 -0.26\\ nan nan\\
39.10 0.00\\ 39.12 -0.78\\ 39.16 -0.37\\ 39.21 -0.78\\ 39.24 -0.74\\ nan nan\\
43.60 -0.40\\ 43.62 -0.76\\ 43.64 -0.58\\ nan nan\\
43.75 -0.20\\ 43.77 -0.78\\ 43.80 -0.30\\ nan nan\\
45.86 -0.30\\ 45.88 -0.76\\ 45.90 -0.45\\ nan nan\\
49.10 0.00\\ 49.12 -0.77\\ 49.15 -0.05\\ nan nan\\
49.98 -0.30\\ 50.00 -0.78\\
}\htextra

\pgfplotstableread[row sep=\\]{x y\\
0.00 0.60\\ 0.03 1.55\\ 0.06 0.75\\ 0.09 1.70\\ 0.12 0.90\\ 0.15 1.80\\ 0.18 1.20\\ 0.21 1.72\\ 0.24 0.55\\ nan nan\\
0.53 0.25\\ 0.57 0.90\\ 0.60 0.40\\ 0.64 1.10\\ 0.67 0.45\\ 0.70 1.24\\ 0.74 0.50\\ 0.78 0.95\\ 0.82 0.45\\ 0.86 1.10\\ 0.90 0.70\\ 0.94 1.05\\ 0.99 0.90\\ nan nan\\
2.00 1.15\\ 2.01 0.80\\ nan nan\\
2.60 0.15\\ 2.63 1.00\\ 2.67 0.80\\ 2.70 0.95\\ 2.74 0.75\\ 2.78 0.90\\ 2.82 0.80\\ 2.86 1.05\\ 2.90 0.82\\ 2.94 1.15\\ 2.98 0.85\\ 3.02 1.20\\ 3.06 0.90\\ 3.09 1.44\\ 3.12 0.85\\ 3.16 1.25\\ 3.20 0.95\\ 3.24 1.10\\ 3.28 0.95\\ 3.32 0.90\\ 3.36 0.75\\ 3.40 0.70\\ 3.44 0.60\\ 3.48 0.95\\ 3.52 1.00\\ 3.56 0.98\\ 3.60 0.95\\ 3.65 1.05\\ 3.70 0.90\\ 3.75 1.20\\ 3.79 0.60\\ 3.83 1.65\\ 3.87 0.90\\ 3.91 1.76\\ 3.95 0.95\\ 3.99 1.70\\ 4.03 0.60\\ 4.07 1.40\\ 4.11 0.43\\ 4.15 1.20\\ 4.20 0.45\\ 4.25 0.30\\ 4.30 0.55\\ 4.34 1.10\\ 4.38 0.55\\ 4.42 1.28\\ 4.46 0.80\\ 4.50 1.10\\ 4.54 0.90\\ 4.58 1.00\\ 4.62 0.85\\ 4.66 1.02\\ 4.70 0.80\\ 4.74 1.20\\ 4.78 0.85\\ 4.82 1.40\\ 4.86 0.80\\ 4.90 1.50\\ 4.94 0.85\\ 4.98 1.30\\ 5.02 0.72\\ 5.06 1.31\\ 5.10 0.75\\ 5.14 1.10\\ 5.18 0.72\\ 5.22 0.85\\ 5.26 0.70\\ 5.30 1.05\\ 5.34 1.60\\ 5.38 1.28\\ 5.41 2.02\\ 5.44 1.30\\ 5.48 1.85\\ 5.52 1.05\\ 5.56 1.80\\ 5.60 1.10\\ 5.64 2.03\\ 5.68 1.10\\ 5.72 1.70\\ 5.76 1.04\\ 5.80 1.85\\ 5.84 0.95\\ 5.88 1.89\\ 5.92 0.91\\ 5.96 1.70\\ 6.00 0.95\\ 6.04 1.87\\ 6.08 0.95\\ 6.12 1.34\\ 6.16 0.80\\ 6.20 1.20\\ 6.24 0.70\\ 6.28 1.10\\ 6.32 0.75\\ 6.36 0.90\\ 6.40 0.67\\ 6.44 0.80\\ 6.48 0.70\\ 6.52 0.85\\ 6.56 0.60\\ 6.60 1.10\\ 6.64 0.55\\ 6.68 1.15\\ 6.72 0.51\\ 6.76 1.00\\ 6.80 0.60\\ 6.84 0.55\\ 6.88 1.60\\ 6.92 0.70\\ 6.96 1.65\\ 7.00 0.64\\ 7.04 1.70\\ 7.08 0.90\\ 7.12 1.90\\ 7.16 2.09\\ 7.20 1.00\\ 7.24 1.50\\ 7.28 0.96\\ 7.32 1.60\\ 7.36 1.00\\ 7.40 1.20\\ 7.44 1.76\\ 7.48 1.05\\ 7.52 1.50\\ 7.56 1.10\\ 7.60 1.30\\ 7.64 1.00\\ 7.68 1.35\\ 7.72 0.94\\ 7.76 1.40\\ 7.80 1.00\\ 7.84 1.50\\ 7.88 1.05\\ 7.92 1.70\\ 7.96 0.90\\ 8.00 1.07\\ 8.04 0.72\\ 8.08 0.95\\ 8.12 0.75\\ 8.16 0.95\\ 8.20 0.70\\ 8.24 1.00\\ 8.28 0.60\\ 8.32 1.25\\ 8.36 0.55\\ 8.40 1.47\\ 8.44 0.51\\ 8.48 1.10\\ 8.52 0.80\\ 8.56 1.12\\ 8.60 0.75\\ 8.64 0.95\\ 8.68 0.80\\ 8.72 0.90\\ 8.76 0.75\\ 8.80 1.30\\ 8.84 0.72\\ 8.88 1.56\\ 8.92 0.80\\ 9.00 0.72\\ 9.04 1.20\\ 9.08 0.80\\ 9.12 1.35\\ 9.16 0.85\\ 9.20 0.70\\ 9.24 1.50\\ 9.28 0.90\\ 9.32 1.70\\ 9.36 1.40\\ 9.40 1.90\\ 9.44 1.30\\ 9.48 1.50\\ 9.52 0.67\\ 9.56 0.75\\ nan nan\\
10.00 0.90\\ 10.04 1.47\\ 10.08 0.91\\ 10.12 1.35\\ 10.16 1.00\\ 10.20 1.20\\ 10.24 0.95\\ 10.28 1.30\\ 10.32 1.05\\ 10.36 1.68\\ 10.40 0.90\\ 10.44 1.30\\ 10.48 0.60\\ 10.52 0.55\\ 10.56 0.48\\ 10.60 0.70\\ 10.64 0.48\\ 10.68 1.30\\ 10.72 0.72\\ 10.76 1.40\\ 10.80 0.75\\ 10.84 1.60\\ 10.88 0.80\\ 10.92 1.70\\ 10.96 0.90\\ 11.00 1.85\\ 11.04 1.30\\ 11.08 1.76\\ 11.12 1.45\\ 11.16 1.70\\ 11.20 1.55\\ 11.24 1.60\\ 11.28 1.10\\ 11.32 1.40\\ 11.36 0.95\\ 11.40 1.20\\ 11.44 0.90\\ 11.48 1.30\\ 11.52 0.70\\ 11.56 1.40\\ 11.60 1.00\\ 11.64 1.50\\ 11.68 1.30\\ 11.72 1.87\\ 11.76 1.20\\ 11.80 1.75\\ 11.84 1.30\\ 11.88 1.60\\ 11.92 1.15\\ 11.96 1.89\\ 12.00 1.15\\ 12.04 1.70\\ 12.08 1.20\\ 12.12 1.50\\ 12.16 1.15\\ 12.20 1.60\\ 12.24 1.30\\ 12.28 1.40\\ 12.32 1.10\\ 12.36 1.60\\ 12.40 1.30\\ 12.44 2.00\\ 12.48 2.09\\ 12.52 1.20\\ 12.56 1.60\\ 12.60 0.75\\ 12.64 1.40\\ 12.68 0.90\\ 12.72 1.80\\ 12.76 1.00\\ 12.80 2.00\\ 12.84 1.10\\ 12.88 0.96\\ 12.92 1.10\\ 12.96 1.23\\ 13.00 0.99\\ 13.02 1.20\\ nan nan\\
15.00 1.71\\ 15.04 1.52\\ 15.08 1.65\\ 15.12 1.55\\ 15.16 1.72\\ 15.20 1.58\\ 15.24 1.76\\ 15.28 1.60\\ 15.32 1.79\\ 15.36 1.58\\ 15.40 1.70\\ nan nan\\
15.83 0.96\\ 15.87 1.30\\ 15.91 0.95\\ 15.95 1.52\\ 15.99 0.94\\ 16.03 1.26\\ 16.07 1.10\\ 16.11 1.30\\ 16.15 1.02\\ 16.19 1.26\\ 16.23 1.05\\ 16.27 1.44\\ 16.31 0.95\\ 16.35 1.30\\ 16.39 0.88\\ 16.43 1.35\\ 16.47 1.00\\ 16.51 1.50\\ 16.55 1.10\\ 16.59 1.80\\ 16.63 2.11\\ 16.67 1.30\\ 16.71 1.12\\ 16.75 1.50\\ 16.79 0.86\\ 16.83 1.40\\ 16.87 1.00\\ 16.91 1.80\\ 16.95 2.09\\ 16.99 1.00\\ 17.03 1.18\\ 17.07 0.90\\ 17.11 1.20\\ 17.15 0.86\\ 17.19 1.10\\ 17.23 0.83\\ 17.27 1.18\\ 17.31 0.95\\ 17.35 1.31\\ 17.39 1.20\\ 17.43 1.39\\ 17.47 1.40\\ 17.51 1.60\\ 17.55 1.00\\ 17.59 1.79\\ 17.63 0.90\\ 17.67 1.40\\ 17.71 0.67\\ 17.75 1.30\\ 17.79 0.75\\ 17.83 1.40\\ 17.87 0.80\\ 17.91 1.60\\ 17.95 0.85\\ 17.99 1.76\\ 18.03 0.64\\ 18.07 1.30\\ 18.11 0.56\\ 18.15 1.58\\ 18.19 0.80\\ 18.23 1.40\\ 18.27 0.75\\ 18.31 1.28\\ 18.35 0.90\\ 18.39 1.28\\ 18.43 0.95\\ 18.47 1.20\\ 18.51 0.86\\ 18.55 1.10\\ 18.59 0.86\\ 18.63 1.10\\ 18.67 0.96\\ 18.71 1.05\\ 18.75 0.64\\ 18.79 0.96\\ 18.83 0.90\\ 18.87 1.40\\ 18.91 0.70\\ 18.95 1.80\\ 18.99 1.20\\ 19.03 2.09\\ 19.07 1.70\\ 19.11 1.90\\ 19.15 1.76\\ 19.19 1.82\\ 19.23 1.44\\ 19.27 1.00\\ 19.31 1.44\\ 19.35 0.96\\ 19.39 1.30\\ 19.43 0.70\\ 19.47 1.58\\ 19.51 0.80\\ 19.55 1.39\\ 19.59 0.90\\ 19.63 1.30\\ 19.67 1.18\\ 19.71 1.35\\ 19.75 0.83\\ 19.79 1.20\\ 19.83 0.83\\ 19.87 1.30\\ 19.91 0.90\\ 19.95 1.36\\ 20.00 1.00\\ nan nan\\
21.00 0.62\\ 21.04 1.20\\ 21.08 1.63\\ 21.12 1.98\\ 21.16 1.30\\ 21.20 1.80\\ 21.24 0.80\\ 21.28 1.40\\ 21.32 0.67\\ 21.36 1.20\\ 21.40 0.75\\ 21.44 1.50\\ 21.48 0.59\\ 21.52 1.20\\ 21.56 0.96\\ 21.60 0.70\\ 21.64 0.80\\ 21.68 0.70\\ nan nan\\
25.00 1.18\\ 25.04 1.10\\ 25.08 1.15\\ 25.12 0.30\\ 25.16 0.83\\ 25.20 0.40\\ 25.24 0.75\\ 25.28 0.60\\ 25.32 1.00\\ 25.36 0.75\\ 25.40 1.34\\ 25.44 0.70\\ 25.48 1.36\\ 25.52 1.00\\ 25.56 1.36\\ 25.60 0.72\\ 25.64 1.93\\ 25.68 1.00\\ 25.72 1.85\\ 25.76 1.20\\ 25.80 2.14\\ 25.84 1.40\\ 25.88 2.00\\ 25.92 1.00\\ 25.96 1.90\\ 26.00 0.59\\ nan nan\\
27.00 1.23\\ 27.04 0.90\\ 27.08 1.10\\ 27.12 0.88\\ 27.16 0.64\\ nan nan\\
27.49 0.99\\ 27.52 0.80\\ 27.56 0.70\\ nan nan\\
27.88 0.70\\ 27.92 0.90\\ 27.96 0.75\\ 28.00 0.86\\ 28.04 0.59\\ 28.08 0.95\\ 28.12 0.70\\ 28.16 1.07\\ 28.20 0.80\\ 28.24 1.15\\ 28.28 0.90\\ 28.32 1.18\\ 28.36 0.95\\ 28.40 1.23\\ 28.44 1.10\\ 28.48 1.42\\ 28.52 1.05\\ 28.56 1.15\\ 28.60 0.70\\ 28.64 0.91\\ 28.68 0.80\\ 28.72 1.02\\ 28.76 0.80\\ 28.80 1.18\\ 28.84 0.90\\ 28.88 1.10\\ 28.92 0.72\\ 28.96 0.91\\ 29.00 0.70\\ 29.04 0.85\\ 29.08 0.72\\ 29.12 0.90\\ 29.16 0.75\\ 29.20 0.85\\ 29.24 0.76\\ 29.28 0.91\\ 29.32 0.80\\ 29.36 0.96\\ 29.40 0.80\\ 29.44 0.90\\ 29.48 0.72\\ 29.51 0.80\\ nan nan\\
29.79 0.72\\ 29.83 0.91\\ 29.87 0.80\\ 29.91 1.02\\ 29.95 0.85\\ 29.99 1.18\\ 30.03 0.95\\ 30.07 1.18\\ 30.11 1.00\\ 30.15 1.15\\ 30.19 1.05\\ 30.23 1.12\\ 30.27 1.00\\ 30.31 1.07\\ 30.35 0.95\\ 30.39 1.12\\ 30.43 1.00\\ 30.47 1.08\\ 30.51 0.96\\ 30.55 0.72\\ 30.59 0.72\\ nan nan\\
31.00 1.04\\ 31.04 0.90\\ 31.08 0.96\\ 31.12 0.80\\ 31.16 0.83\\ 31.20 0.75\\ 31.24 0.86\\ 31.28 0.70\\ 31.32 0.80\\ 31.36 0.64\\ 31.40 0.75\\ 31.44 0.54\\ 31.48 0.65\\ 31.52 0.51\\ 31.56 0.70\\ 31.60 0.51\\ 31.64 0.96\\ 31.68 0.70\\ 31.72 1.02\\ 31.76 0.80\\ 31.80 1.28\\ 31.84 0.86\\ 31.88 1.10\\ 31.92 0.86\\ 31.96 0.96\\ 32.00 0.70\\ 32.04 0.96\\ 32.08 0.54\\ 32.12 0.80\\ 32.16 0.60\\ 32.20 0.78\\ 32.24 0.75\\ 32.28 1.07\\ 32.32 0.80\\ 32.36 1.30\\ 32.40 1.55\\ 32.44 1.00\\ 32.48 1.07\\ 32.52 0.90\\ 32.56 1.07\\ 32.60 0.85\\ 32.64 0.96\\ 32.68 0.86\\ 32.72 1.00\\ 32.76 0.86\\ 32.80 1.15\\ 32.84 0.90\\ 32.88 1.02\\ 32.92 0.91\\ 32.96 1.00\\ 33.00 0.80\\ 33.04 1.10\\ 33.08 0.85\\ 33.12 1.28\\ 33.16 0.90\\ 33.20 1.02\\ 33.24 1.07\\ 33.28 0.91\\ 33.32 0.86\\ 33.36 0.80\\ 33.40 1.12\\ 33.44 0.90\\ 33.48 1.44\\ 33.52 1.00\\ 33.56 1.55\\ 33.60 1.10\\ 33.64 1.35\\ 33.68 0.80\\ 33.72 1.20\\ 33.76 1.63\\ 33.80 1.00\\ 33.84 1.28\\ 33.88 1.00\\ 33.92 1.36\\ 33.96 1.10\\ 34.00 1.25\\ 34.04 1.00\\ 34.08 1.02\\ 34.12 1.10\\ 34.16 0.96\\ 34.20 1.15\\ 34.24 1.00\\ 34.28 1.34\\ 34.32 1.10\\ 34.36 1.28\\ 34.40 0.90\\ 34.44 1.18\\ 34.48 0.96\\ 34.52 1.20\\ 34.56 1.00\\ 34.60 1.10\\ 34.64 1.02\\ 34.68 1.15\\ 34.72 0.95\\ 34.76 1.10\\ 34.80 1.00\\ 34.84 1.05\\ 34.88 0.95\\ 34.92 1.00\\ 34.96 0.90\\ 35.00 1.02\\ 35.04 0.54\\ 35.08 0.80\\ 35.12 0.70\\ 35.16 0.85\\ 35.20 0.75\\ 35.24 1.02\\ 35.28 0.80\\ 35.32 0.96\\ 35.36 0.80\\ 35.40 0.86\\ 35.44 0.64\\ 35.48 0.70\\ 35.52 0.90\\ 35.56 1.02\\ 35.60 0.60\\ 35.64 0.59\\ 35.68 0.70\\ 35.72 0.80\\ 35.76 0.96\\ 35.80 0.65\\ 35.84 0.80\\ 35.88 0.59\\ 35.92 0.70\\ 35.96 0.54\\ 36.00 0.60\\ 36.04 0.48\\ 36.08 0.55\\ 36.12 0.48\\ 36.16 0.60\\ 36.20 0.78\\ 36.24 0.60\\ 36.28 0.75\\ 36.32 0.55\\ 36.36 0.54\\ 36.40 0.70\\ 36.44 0.96\\ 36.48 0.45\\ 36.52 0.75\\ 36.56 0.70\\ 36.60 0.96\\ 36.64 0.45\\ 36.70 0.60\\ nan nan\\
37.00 0.16\\ 37.04 0.55\\ 37.08 0.20\\ 37.12 0.62\\ 37.16 0.16\\ 37.20 0.27\\ 37.24 0.10\\ 37.28 0.38\\ 37.32 0.20\\ 37.36 0.60\\ 37.40 0.75\\ 37.44 0.40\\ 37.48 0.80\\ 37.52 0.50\\ 37.56 0.86\\ 37.60 0.45\\ 37.64 0.60\\ 37.68 0.22\\ 37.72 0.70\\ 37.76 0.30\\ 37.80 0.91\\ 37.84 0.60\\ 37.88 1.00\\ 37.92 0.70\\ 37.96 1.07\\ 38.00 0.75\\ 38.04 1.15\\ 38.08 0.70\\ 38.12 0.80\\ 38.16 0.54\\ 38.20 0.75\\ 38.24 0.43\\ 38.28 0.60\\ 38.32 0.40\\ 38.36 0.55\\ 38.40 0.38\\ 38.44 0.50\\ 38.48 0.35\\ 38.52 0.45\\ 38.56 0.33\\ 38.60 0.40\\ 38.64 0.30\\ 38.68 0.35\\ 38.72 0.28\\ 38.76 0.30\\ 38.80 0.22\\ 38.84 0.40\\ 38.88 0.25\\ 38.92 0.80\\ 38.96 0.30\\ 39.00 1.10\\ 39.04 0.55\\ 39.08 0.75\\ 39.12 0.40\\ 39.16 0.70\\ 39.20 0.38\\ 39.24 0.50\\ 39.28 0.48\\ 39.32 0.90\\ 39.36 0.53\\ 39.40 0.80\\ 39.44 0.60\\ 39.48 0.91\\ 39.52 0.75\\ 39.56 0.70\\ 39.60 0.50\\ 39.64 0.72\\ 39.68 0.65\\ 39.72 0.60\\ 39.76 0.75\\ 39.80 0.59\\ 39.84 0.80\\ 39.88 0.70\\ 39.92 0.86\\ 39.96 0.96\\ 40.00 0.80\\ 40.04 1.20\\ 40.08 1.39\\ 40.12 0.90\\ 40.16 1.20\\ 40.20 0.86\\ 40.24 1.10\\ 40.28 0.90\\ 40.32 0.70\\ 40.36 1.00\\ 40.40 0.80\\ 40.44 1.20\\ 40.48 1.02\\ 40.52 1.44\\ 40.56 1.00\\ 40.60 1.30\\ 40.64 0.96\\ 40.68 1.10\\ 40.72 0.90\\ 40.76 1.00\\ 40.80 0.91\\ 40.84 0.95\\ 40.88 0.88\\ 40.92 0.95\\ 40.96 0.90\\ 41.00 0.91\\ nan nan\\
42.16 0.30\\ 42.20 1.18\\ 42.24 0.60\\ 42.28 1.34\\ 42.32 0.70\\ 42.36 1.39\\ 42.40 0.80\\ 42.44 1.36\\ 42.48 0.75\\ 42.52 1.00\\ 42.56 0.54\\ 42.60 0.90\\ 42.64 0.60\\ 42.68 0.80\\ 42.72 0.50\\ 42.76 0.22\\ 42.80 0.40\\ 42.84 0.00\\ 42.88 0.70\\ 42.92 0.30\\ 42.96 0.96\\ 43.00 0.50\\ 43.04 1.31\\ 43.08 0.60\\ 43.12 1.18\\ 43.16 0.80\\ 43.20 0.96\\ 43.24 0.64\\ 43.28 0.96\\ 43.32 0.80\\ 43.36 0.80\\ 43.40 1.00\\ 43.44 1.20\\ 43.48 0.60\\ 43.52 0.43\\ 43.56 0.06\\ 43.60 0.30\\ 43.64 0.00\\ 43.68 0.38\\ 43.72 0.22\\ 43.76 0.40\\ 43.80 0.00\\ 43.84 0.22\\ 43.88 0.50\\ 43.92 0.38\\ 43.96 0.00\\ 44.00 0.30\\ 44.04 0.03\\ 44.08 0.10\\ 44.12 0.00\\ 44.16 -0.18\\ 44.20 0.03\\ 44.24 0.30\\ 44.28 0.10\\ 44.32 0.48\\ 44.36 0.20\\ 44.40 0.45\\ 44.44 0.05\\ 44.48 0.32\\ 44.52 0.15\\ 44.56 0.43\\ 44.60 0.25\\ 44.64 0.38\\ 44.68 0.70\\ 44.72 0.20\\ 44.76 0.80\\ 44.80 1.28\\ 44.84 0.50\\ 44.88 0.75\\ 44.92 0.10\\ 44.96 0.40\\ 45.00 0.16\\ 45.04 0.54\\ 45.08 0.25\\ 45.12 0.50\\ 45.16 0.22\\ 45.20 0.48\\ 45.24 0.35\\ 45.28 0.64\\ 45.32 0.30\\ 45.36 0.75\\ 45.40 0.45\\ 45.44 0.80\\ 45.48 0.50\\ 45.52 0.86\\ 45.56 0.60\\ 45.60 0.99\\ 45.64 0.40\\ 45.68 0.80\\ 45.72 0.10\\ 45.76 0.60\\ 45.80 0.00\\ 45.84 0.40\\ 45.88 0.05\\ 45.92 0.20\\ nan nan\\
49.00 1.07\\ 49.04 0.80\\ 49.08 1.00\\ 49.12 0.60\\ 49.16 1.00\\ 49.20 0.54\\ 49.24 0.90\\ 49.28 1.07\\ 49.32 0.80\\ 49.36 0.40\\ 49.40 0.16\\ 49.44 0.60\\ 49.48 0.43\\ 49.52 0.70\\ 49.56 0.43\\ 49.60 0.80\\ 49.64 1.00\\ 49.68 0.70\\ 49.72 1.07\\ 49.76 0.80\\ 49.80 1.05\\ 49.84 0.70\\ 49.88 0.90\\ 49.92 0.50\\ 49.96 0.27\\ 50.00 0.60\\
}\hori

\pgfplotsset{
  myax/.style={
    scale only axis, width=582.6bp, height=177.7bp,
    xmin=0, xmax=50,
    xtick={0,5,...,50},
    xticklabels={0,5,10,15,20,25,30,35,40,45,50},
    minor x tick num=4, minor y tick num=4,
    tick align=inside,
    major tick length=5.8bp, minor tick length=2.9bp,
    grid=both,
    major grid style={gray!30, dotted, line width=0.35bp},
    minor grid style={gray!25, dotted, line width=0.35bp},
    axis line style={gray!75, line width=0.6bp},
    every tick/.style={gray!75, line width=0.5bp},
    ticklabel style={font=\fontsize{10.6}{12}\selectfont\bfseries, text=black!85},
    xticklabel style={yshift=-2.3bp},
    label style={font=\fontsize{12.5}{14}\selectfont\bfseries, text=black!85},
    xlabel style={at={(axis description cs:0.5,-0.137)}, anchor=center},
    ylabel style={at={(axis description cs:-0.0417,0.5)}, anchor=center},
    unbounded coords=jump,
    legend cell align=left,
    clip mode=individual,
  },
}

\begin{document}
\begin{tikzpicture}
% ----- (a) -----
\begin{axis}[myax,
  ymin=0, ymax=3,
  ytick={0,0.5,...,3},
  yticklabels={0,0.5,1,1.5,2,2.5,3},
  xlabel={Distance (km)}, ylabel={Height (m)},
  legend style={at={(0.500,0.962)}, anchor=north, draw=gray!70, line width=0.5bp,
    font=\fontsize{9.6}{10.5}\selectfont\bfseries, inner xsep=0.5bp, inner ysep=0.3bp,
    row sep=-1.6bp},
  legend image code/.code={\draw[#1] (0bp,0bp) -- (13bp,0bp);},
]
\addplot[mblue, line width=1.6bp, line join=round] table[x=x,y=y] {\dms};
\addlegendentry{DMS}
\addplot[morange, line width=0.8bp, line join=round] table[x=x,y=y] {\smodel};
\addlegendentry{Simplified Model}
\node[anchor=west, font=\arialf\fontsize{11}{13}\selectfont, inner sep=0pt] at (axis description cs:0.021,0.925) {RMSE=0.26\,m};
\node[font=\arialf\fontsize{11.5}{13}\selectfont, inner sep=0pt] at (axis description cs:0.4674,-0.2095) {(a)};
\end{axis}
% ----- (b) -----
\begin{axis}[myax, at={(0,-230.3bp)},
  ymin=-1.5, ymax=2.5,
  ytick={-1.5,-1,...,2.5},
  yticklabels={-1.5,-1,-0.5,0,0.5,1,1.5,2,2.5},
  xlabel={Distance (km)}, ylabel={Height difference (m)},
  legend style={at={(0.979,0.967)}, anchor=north east, draw=gray!70, line width=0.5bp,
    font=\fontsize{8.6}{10}\selectfont\bfseries, inner xsep=0.5bp, inner ysep=1bp,
    row sep=4.6bp, nodes={inner xsep=1.5bp, inner ysep=1.5bp}},
  legend image code/.code={\draw[#1] (0bp,0bp) -- (13bp,0bp);},
]
\addplot[mblue, line width=1.25bp, line join=round] table[x=x,y=y] {\hs};
\addlegendentry{h\raisebox{-4.6bp}{diff\_S}}
\addplot[morange, line width=0.6bp, line join=round] table[x=x,y=y] {\hs};
\addlegendentry{h\raisebox{-4.6bp}{diff\_T}}
\addplot[mgreen, line width=1.0bp, dash pattern=on 0.7bp off 1.0bp] table[x=x,y=y] {\hori};
\addlegendentry{h\raisebox{-4.6bp}{diff\_ori}}
\addplot[morange, line width=0.6bp, line join=round, forget plot] table[x=x,y=y] {\htextra};
\draw[black, line width=1.1bp] (axis cs:0,0) -- (axis cs:50,0);
\node[font=\arialf\fontsize{11.5}{13}\selectfont, inner sep=0pt] at (axis description cs:0.4706,-0.2046) {(b)};
\end{axis}
\pgfresetboundingbox
\path[use as bounding box] (-32.19bp,-271.44bp) rectangle (587.91bp,181.26bp);
\end{tikzpicture}
\end{document}
